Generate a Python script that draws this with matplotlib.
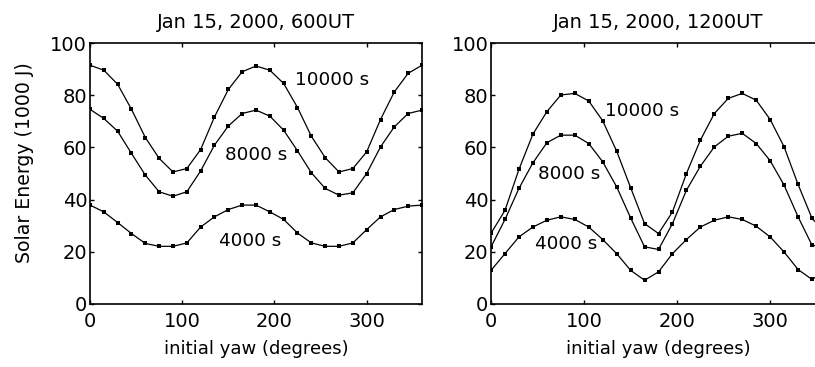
"""Solar energy vs initial yaw, two epochs side by side (MATLAB-style look)."""

import matplotlib
matplotlib.use("Agg")
from matplotlib import pyplot as plt

plt.rcParams['font.family'] = ['DejaVu Sans']

# yaw angles, every 15 degrees
yaw = [0, 15, 30, 45, 60, 75, 90, 105, 120, 135, 150, 165, 180,
       195, 210, 225, 240, 255, 270, 285, 300, 315, 330, 345, 360]

# Jan 15, 2000, 600UT
e600_10000 = [91.5, 89.6, 84.2, 74.6, 63.8, 55.8, 50.6, 51.9, 59.2, 71.7, 82.2, 89.0, 91.2,
              89.6, 84.5, 75.3, 64.3, 56.1, 50.6, 51.9, 58.3, 70.7, 81.3, 88.4, 91.5]
e600_8000 = [74.6, 71.1, 66.2, 57.7, 49.4, 43.0, 41.3, 43.0, 51.0, 60.9, 68.2, 73.0, 74.3,
             72.0, 66.6, 58.7, 50.3, 44.3, 41.7, 42.6, 50.0, 60.2, 67.9, 73.0, 74.3]
e600_4000 = [37.9, 35.3, 31.2, 27.0, 23.2, 22.1, 22.1, 23.4, 29.5, 33.4, 36.2, 37.9, 37.9,
             35.3, 32.4, 27.2, 23.4, 22.1, 22.1, 23.4, 28.5, 33.4, 36.2, 37.5, 37.9]

# Jan 15, 2000, 1200UT
e1200_10000 = [27.1, 35.9, 51.6, 65.1, 73.7, 80.1, 80.7, 77.8, 70.2, 58.6, 44.6, 30.8, 27.0,
               35.3, 50.0, 62.8, 73.0, 78.8, 80.7, 78.1, 70.7, 60.2, 45.8, 32.8, 27.1]
e1200_8000 = [21.9, 32.4, 44.3, 54.1, 61.8, 64.7, 64.7, 61.5, 54.5, 44.9, 33.0, 21.9, 20.9,
              30.8, 43.6, 52.8, 60.2, 64.3, 65.4, 61.5, 54.9, 45.5, 33.4, 22.5, 21.9]
e1200_4000 = [12.9, 19.3, 25.7, 29.5, 32.1, 33.4, 32.4, 29.5, 24.7, 19.3, 12.9, 9.1, 12.3,
              19.3, 24.7, 29.5, 32.1, 33.4, 32.4, 29.8, 25.7, 19.9, 13.2, 9.4, 12.9]

titles = ["Jan 15, 2000, 600UT", "Jan 15, 2000, 1200UT"]
curve_labels = ["10000 s", "8000 s", "4000 s"]
# where the curve labels sit, in data coords
label_pos = [[(222, 86), (146, 57), (140, 24)],
             [(122, 74), (50, 50), (47, 23)]]

fig = plt.figure(figsize=(8.15, 3.67), dpi=100)
# the right panel runs past the figure edge, as in the original screenshot
ax1 = fig.add_axes([0.1104, 0.1717, 0.4074, 0.711])
ax2 = fig.add_axes([0.6025, 0.1717, 0.411, 0.711])

series = [[e600_10000, e600_8000, e600_4000],
          [e1200_10000, e1200_8000, e1200_4000]]

for i, ax in enumerate([ax1, ax2]):
    for ys in series[i]:
        ax.plot(yaw, ys, color='black', linewidth=0.9, marker='s',
                markersize=3.4, markerfacecolor='black', markeredgewidth=0)
    for lab, (lx, ly) in zip(curve_labels, label_pos[i]):
        ax.text(lx, ly, lab, fontsize=13.2, ha='left', va='center')
    ax.set_xlim(0, 360)
    ax.set_ylim(0, 100)
    ax.set_xticks([0, 100, 200, 300])
    ax.set_yticks([0, 20, 40, 60, 80, 100])
    ax.tick_params(direction='in', length=3, width=1, top=True, right=True,
                   labelsize=14)
    ax.tick_params(axis='x', pad=6)
    ax.tick_params(axis='y', pad=2)
    for sp in ax.spines.values():
        sp.set_linewidth(1.2)
    ax.set_title(titles[i], fontsize=14, pad=11)
    ax.set_xlabel("initial yaw (degrees)", fontsize=13, labelpad=6)

ax1.set_ylabel("Solar Energy (1000 J)", fontsize=13.6)
ax1.yaxis.set_label_coords(-0.168, 0.543)

fig.savefig("out.png", dpi=100)
